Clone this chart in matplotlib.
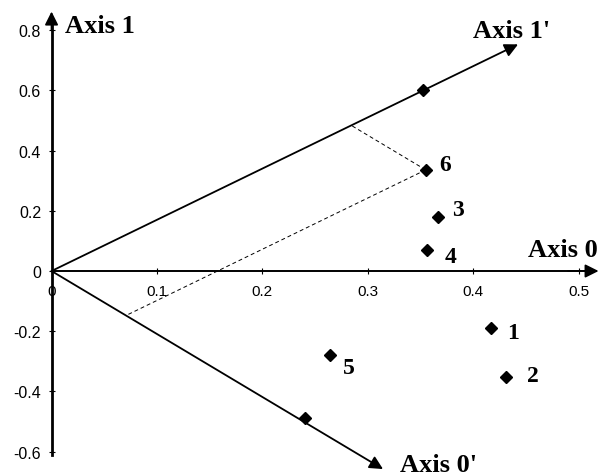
import numpy as np
import matplotlib.pyplot as plt

plt.rcParams['axes.unicode_minus'] = False

# sample coordinates on the plane (Axis 0, Axis 1)
sample_ids = ["1", "2", "3", "4", "5", "6"]
axis0_vals = [0.417, 0.431, 0.367, 0.356, 0.264, 0.355]
axis1_vals = [-0.190, -0.353, 0.180, 0.070, -0.278, 0.336]

# rotated axes: arrow tip and the marked point on each
rot_names = ["Axis 1'", "Axis 0'"]
rot_tip_x = [0.4426, 0.3145]
rot_tip_y = [0.753, -0.658]
rot_mark_x = [0.352, 0.2405]
rot_mark_y = [0.601, -0.489]

# sample whose decomposition onto the rotated axes is drawn
projected_id = "6"

x_ticks = [0, 0.1, 0.2, 0.3, 0.4, 0.5]
x_tick_labels = ["0", "0.1", "0.2", "0.3", "0.4", "0.5"]
y_ticks = [-0.6, -0.4, -0.2, 0, 0.2, 0.4, 0.6, 0.8]
y_tick_labels = ["-0.6", "-0.4", "-0.2", "0", "0.2", "0.4", "0.6", "0.8"]

serif = "Liberation Serif"
sans = "Liberation Sans"

fig = plt.figure(figsize=(6.01, 4.77), dpi=100)
ax = fig.add_axes([0, 0, 1, 1])
ax.set_xlim(-0.0489, 0.5213)
ax.set_ylim(-0.681, 0.9037)

# main axes through the origin
for side in ["top", "right"]:
    ax.spines[side].set_visible(False)
ax.spines["left"].set_position(("data", 0))
ax.spines["bottom"].set_position(("data", 0))
ax.spines["left"].set_bounds(-0.612, 0.84)
ax.spines["bottom"].set_bounds(0, 0.505)
ax.spines["left"].set_linewidth(2.0)
ax.spines["bottom"].set_linewidth(1.4)

arrow = dict(arrowstyle="-|>", mutation_scale=20, lw=1.3, color="black",
             shrinkA=0, shrinkB=0)
ax.annotate("", xy=(0, 0.862), xytext=(0, 0.80), arrowprops=arrow)
ax.annotate("", xy=(0.519, 0), xytext=(0.49, 0), arrowprops=arrow)

ax.set_xticks(x_ticks)
ax.set_xticklabels(x_tick_labels, fontfamily=sans, fontsize=11)
ax.set_yticks(y_ticks)
ax.set_yticklabels(y_tick_labels, fontfamily=sans, fontsize=11.5)
ax.tick_params(axis="x", direction="inout", length=5, width=0.8, pad=7)
ax.tick_params(axis="y", direction="inout", length=5, width=0.8, pad=5)

# rotated axes
for tx, ty in zip(rot_tip_x, rot_tip_y):
    ax.annotate("", xy=(tx, ty), xytext=(0, 0), arrowprops=arrow)
ax.plot(rot_mark_x, rot_mark_y, linestyle="none", marker="D",
        markersize=6.5, color="black")

# oblique decomposition of one sample along the rotated axes
k = sample_ids.index(projected_id)
p = np.array([axis0_vals[k], axis1_vals[k]])
u1 = np.array([rot_tip_x[0], rot_tip_y[0]])
u0 = np.array([rot_tip_x[1], rot_tip_y[1]])
a, b = np.linalg.solve(np.column_stack([u1, u0]), p)
for foot in (a * u1, b * u0):
    ax.plot([p[0], foot[0]], [p[1], foot[1]], color="black", lw=0.7,
            dashes=(4, 3))

# samples
ax.plot(axis0_vals, axis1_vals, linestyle="none", marker="D",
        markersize=6.5, color="black")
label_offsets = {"1": (11.5, -1.4), "2": (15.1, 2.9), "3": (9.7, 6.8),
                 "4": (13.0, -2.9), "5": (9.4, -7.2), "6": (9.4, 5.8)}
for sid, x, y in zip(sample_ids, axis0_vals, axis1_vals):
    ax.annotate(sid, xy=(x, y), xytext=label_offsets[sid],
                textcoords="offset points", ha="left", va="center_baseline",
                fontfamily=serif, fontweight="bold", fontsize=17)

# axis names
name_kw = dict(fontfamily=serif, fontweight="bold", fontsize=19,
               ha="left", va="baseline")
ax.text(0.0128, 0.794, "Axis 1", **name_kw)
ax.text(0.452, 0.050, "Axis 0", **name_kw)
ax.text(0.3999, 0.777, rot_names[0], **name_kw)
ax.text(0.3306, -0.664, rot_names[1], **name_kw)

fig.savefig("out.png", dpi=100)
